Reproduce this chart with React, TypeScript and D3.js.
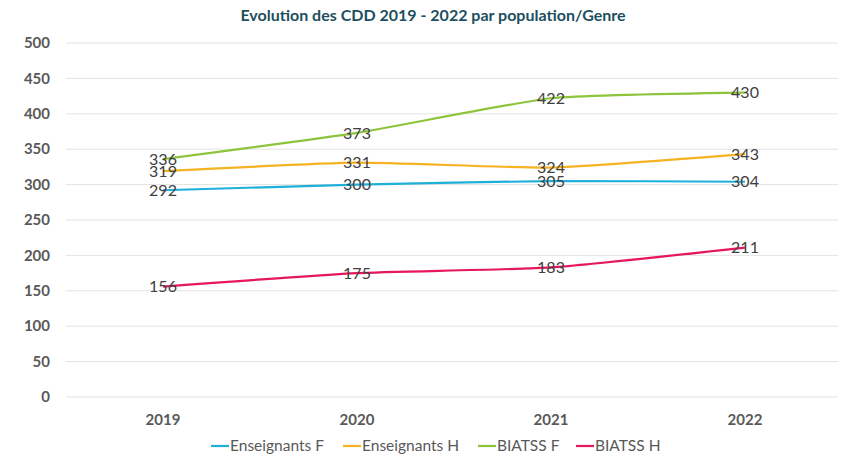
import React from "react";
import * as d3 from "d3";

const years = ["2019", "2020", "2021", "2022"];
const seriesNames = ["Enseignants F", "Enseignants H", "BIATSS F", "BIATSS H"];
const enseignantsF = [292, 300, 305, 304];
const enseignantsH = [319, 331, 324, 343];
const biatssF = [336, 373, 422, 430];
const biatssH = [156, 175, 183, 211];
const yTicks = [0, 50, 100, 150, 200, 250, 300, 350, 400, 450, 500];
const colors = ["#1DB0D8", "#F5B223", "#8CC43C", "#E6175C"];

const W = 843;
const H = 457;
const font = "Lato, 'Open Sans', sans-serif";

export default function App() {
  const values = [enseignantsF, enseignantsH, biatssF, biatssH];
  const x = d3.scaleBand().domain(years).range([66, 842]);
  const y = d3.scaleLinear().domain([0, 500]).range([397, 43]);
  const line = d3
    .line<number>()
    .x((_, i) => x(years[i])! + x.bandwidth() / 2)
    .y((d) => y(d))
    .curve(d3.curveCardinal.tension(0.5));

  const legendX = [211, 343, 478, 576];

  return (
    <svg width={W} height={H} style={{ position: "absolute", left: 0, top: 0, background: "#fff" }}>
      <text x={433} y={21} textAnchor="middle" fontFamily={font} fontWeight="bold" fontSize={16} fill="#1D4F5E">
        Evolution des CDD 2019 - 2022 par population/Genre
      </text>
      {yTicks.map((t) => (
        <g key={t}>
          <line x1={66} x2={838} y1={y(t)} y2={y(t)} stroke="#E3E3E3" strokeWidth={1} />
          <text x={50} y={y(t)} dy="0.35em" textAnchor="end" fontFamily={font} fontWeight="bold" fontSize={15} fill="#595959">
            {t}
          </text>
        </g>
      ))}
      {years.map((yr) => (
        <text key={yr} x={x(yr)! + x.bandwidth() / 2} y={425} textAnchor="middle" fontFamily={font} fontWeight="bold" fontSize={15} fill="#595959">
          {yr}
        </text>
      ))}
      {values.map((vals, s) => (
        <path key={s} d={line(vals) ?? ""} fill="none" stroke={colors[s]} strokeWidth={2.2} />
      ))}
      {values.map((vals, s) =>
        vals.map((v, i) => (
          <text key={`${s}-${i}`} x={x(years[i])! + x.bandwidth() / 2} y={y(v)} dy="0.35em" textAnchor="middle" fontFamily={font} fontSize={16} fill="#404040">
            {v}
          </text>
        ))
      )}
      {seriesNames.map((n, s) => (
        <g key={n}>
          <line x1={legendX[s]} x2={legendX[s] + 18} y1={446} y2={446} stroke={colors[s]} strokeWidth={2.2} />
          <text x={legendX[s] + 19} y={446} dy="0.35em" fontFamily={font} fontSize={15.5} fill="#595959">
            {n}
          </text>
        </g>
      ))}
    </svg>
  );
}
